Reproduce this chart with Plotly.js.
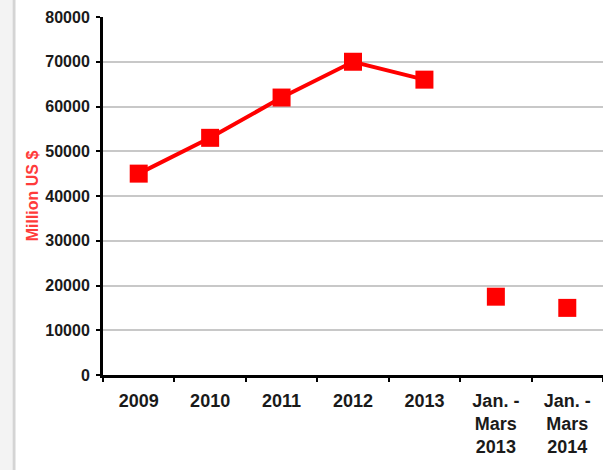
<!DOCTYPE html>
<html>
<head>
<meta charset="utf-8">
<script src="https://cdn.plot.ly/plotly-3.0.1.min.js"></script>
<style>html,body{margin:0;padding:0;background:#fff;}#chart{width:603px;height:470px;}</style>
</head>
<body>
<div id="chart"></div>
<script>
var categories = ["2009", "2010", "2011", "2012", "2013", "Jan. -<br>Mars<br>2013", "Jan. -<br>Mars<br>2014"];
var annualCats = ["2009", "2010", "2011", "2012", "2013"];
var annualValues = [45000, 53000, 62000, 70000, 66000];
var quarterCats = ["Jan. -<br>Mars<br>2013", "Jan. -<br>Mars<br>2014"];
var quarterValues = [17500, 15000];
var yTicks = [0, 10000, 20000, 30000, 40000, 50000, 60000, 70000, 80000];

var red = "#ff0000";
var traces = [
  {x: annualCats, y: annualValues, type: "scatter", mode: "lines+markers",
   line: {color: red, width: 4}, marker: {symbol: "square", size: 18, color: red}},
  {x: quarterCats, y: quarterValues, type: "scatter", mode: "markers",
   marker: {symbol: "square", size: 18, color: red}}
];
var layout = {
  width: 603, height: 470,
  margin: {l: 103, r: 0, t: 17, b: 95},
  paper_bgcolor: "#fff", plot_bgcolor: "#fff",
  showlegend: false,
  xaxis: {
    type: "category", categoryorder: "array", categoryarray: categories,
    range: [-0.5, 6.5], tickson: "boundaries",
    ticks: "outside", ticklen: 4, tickwidth: 2, tickcolor: "#000",
    ticklabelstandoff: 7,
    showline: true, linecolor: "#000", linewidth: 3,
    showgrid: false, zeroline: false,
    tickfont: {family: "Liberation Sans, Arial, sans-serif", size: 18, color: "#1a1a1a", weight: "bold"}
  },
  yaxis: {
    range: [0, 80000], tickvals: yTicks, ticktext: yTicks.map(String),
    ticks: "outside", ticklen: 4, tickwidth: 2, tickcolor: "#000",
    ticklabelstandoff: 3,
    showline: true, linecolor: "#000", linewidth: 3,
    showgrid: true, gridcolor: "#c8c8c8", gridwidth: 2, zeroline: false,
    tickfont: {family: "Liberation Sans, Arial, sans-serif", size: 16, color: "#1a1a1a", weight: "bold"},
    title: {text: "Million US $", standoff: 3,
            font: {family: "Liberation Sans, Arial, sans-serif", size: 16, color: "#ff3b3b", weight: "bold"}}
  },
  shapes: [
    {type: "rect", xref: "paper", yref: "paper", x0: -0.206, x1: -0.182, y0: -0.3, y1: 1.1,
     fillcolor: "#f3f3f3", line: {width: 0}, layer: "below"},
    {type: "line", xref: "paper", yref: "paper", x0: -0.178, x1: -0.178, y0: -0.3, y1: 1.1,
     line: {color: "#d4d4d4", width: 3}}
  ]
};
Plotly.newPlot("chart", traces, layout, {displayModeBar: false, staticPlot: true});
</script>
</body>
</html>
